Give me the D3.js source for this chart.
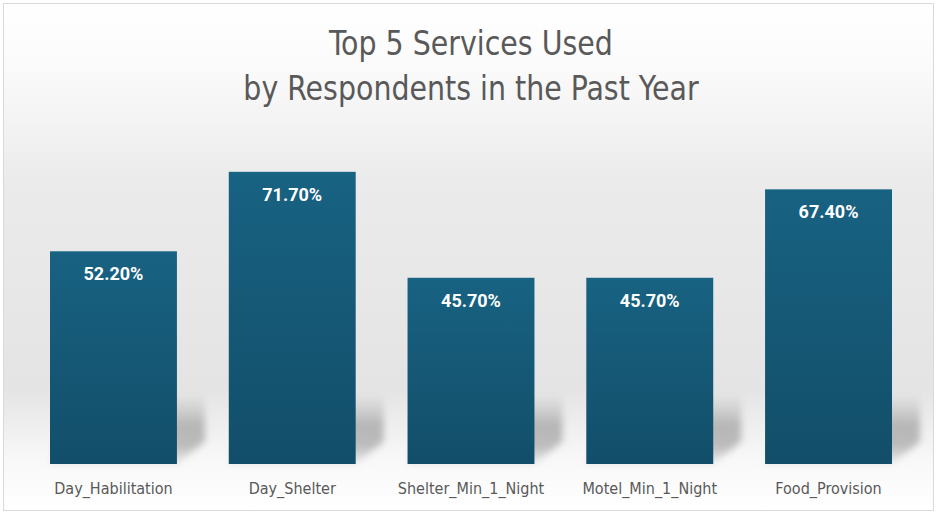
<!DOCTYPE html>
<html>
<head>
<meta charset="utf-8">
<script src="https://cdn.jsdelivr.net/npm/d3@7"></script>
<style>
  body { margin: 0; background: #fff; }
  svg { display: block; }
</style>
</head>
<body>
<svg width="936" height="514"></svg>
<script>
  const categories = ['Day_Habilitation', 'Day_Shelter', 'Shelter_Min_1_Night', 'Motel_Min_1_Night', 'Food_Provision'];
  const values = [52.2, 71.7, 45.7, 45.7, 67.4];
  const titleLines = ['Top 5 Services Used', 'by Respondents in the Past Year'];

  const svg = d3.select('svg');
  const defs = svg.append('defs');

  // background panel gradient
  const bg = defs.append('linearGradient').attr('id', 'bg')
      .attr('x1', 0).attr('y1', 0).attr('x2', 0).attr('y2', 1);
  bg.append('stop').attr('offset', '0%').attr('stop-color', '#ffffff');
  bg.append('stop').attr('offset', '12%').attr('stop-color', '#fbfbfb');
  bg.append('stop').attr('offset', '35%').attr('stop-color', '#ebebeb');
  bg.append('stop').attr('offset', '76%').attr('stop-color', '#e4e4e4');
  bg.append('stop').attr('offset', '90%').attr('stop-color', '#f8f8f8');
  bg.append('stop').attr('offset', '100%').attr('stop-color', '#ffffff');

  const barGrad = defs.append('linearGradient').attr('id', 'barGrad')
      .attr('x1', 0).attr('y1', 0).attr('x2', 0).attr('y2', 1);
  barGrad.append('stop').attr('offset', '0%').attr('stop-color', '#186282');
  barGrad.append('stop').attr('offset', '100%').attr('stop-color', '#124e69');

  const shGrad = defs.append('linearGradient').attr('id', 'shGrad')
      .attr('x1', 0).attr('y1', 0).attr('x2', 0).attr('y2', 1);
  shGrad.append('stop').attr('offset', '0%').attr('stop-color', '#bcbcbc').attr('stop-opacity', 0);
  shGrad.append('stop').attr('offset', '45%').attr('stop-color', '#b6b6b6').attr('stop-opacity', 1);
  shGrad.append('stop').attr('offset', '75%').attr('stop-color', '#bcbcbc').attr('stop-opacity', 1);
  shGrad.append('stop').attr('offset', '100%').attr('stop-color', '#dadada').attr('stop-opacity', 0.5);

  defs.append('filter').attr('id', 'blur')
      .attr('x', '-20%').attr('y', '-20%').attr('width', '140%').attr('height', '140%')
    .append('feGaussianBlur').attr('stdDeviation', 3.5);

  svg.append('rect')
      .attr('x', 3.5).attr('y', 3.5).attr('width', 930).attr('height', 507)
      .attr('fill', 'url(#bg)')
      .attr('stroke', '#d9d9d9').attr('stroke-width', 1);

  const x = d3.scaleBand().domain(categories).range([50, 892]).paddingInner(0.29).paddingOuter(0);
  const y = d3.scaleLinear().domain([0, 80]).range([464, 138]);

  // perspective shadows behind the bars
  const shOff = 28;
  svg.append('g').selectAll('path')
    .data(categories)
    .join('path')
      .attr('d', (c) => {
        const x0 = x(c), x1 = x(c) + x.bandwidth();
        const top = y(17.5), mid = y(5.5);
        return `M${x0},${y(0)} L${x1},${y(0)} L${x1 + shOff},${mid} L${x1 + shOff},${top} L${x0 + shOff},${top} Z`;
      })
      .attr('fill', 'url(#shGrad)')
      .attr('filter', 'url(#blur)');

  svg.append('g').selectAll('rect')
    .data(categories)
    .join('rect')
      .attr('x', d => x(d))
      .attr('y', (d, i) => y(values[i]))
      .attr('width', x.bandwidth())
      .attr('height', (d, i) => y(0) - y(values[i]))
      .attr('fill', 'url(#barGrad)');

  svg.append('g').selectAll('text')
    .data(categories)
    .join('text')
      .attr('x', d => x(d) + x.bandwidth() / 2)
      .attr('y', (d, i) => y(values[i]) + 29)
      .attr('text-anchor', 'middle')
      .attr('fill', '#ffffff')
      .attr('font-family', 'Roboto, "Liberation Sans", Arial, sans-serif')
      .attr('font-weight', 'bold')
      .attr('font-size', 18)
      .text((d, i) => values[i].toFixed(2) + '%');

  const xAxis = d3.axisBottom(x).tickSize(0).tickPadding(0);
  const axisG = svg.append('g')
      .attr('transform', `translate(0,${y(0)})`)
      .call(xAxis);
  axisG.select('.domain').remove();
  axisG.selectAll('text')
      .attr('dy', 0)
      .attr('y', 30)
      .attr('fill', '#595959')
      .attr('font-family', '"DejaVu Sans Condensed", Roboto, sans-serif')
      .attr('font-stretch', 'condensed')
      .attr('font-size', 16);

  // narrow title: condensed face, squeezed a little horizontally
  svg.append('g')
      .attr('transform', 'translate(471,0) scale(0.93,1)')
    .append('text')
      .attr('text-anchor', 'middle')
      .attr('fill', '#595959')
      .attr('font-family', '"DejaVu Sans Condensed", Roboto, sans-serif')
      .attr('font-stretch', 'condensed')
      .attr('font-size', 34)
    .selectAll('tspan')
    .data(titleLines)
    .join('tspan')
      .attr('x', 0)
      .attr('y', (d, i) => 55 + i * 45)
      .text(d => d);
</script>
</body>
</html>
